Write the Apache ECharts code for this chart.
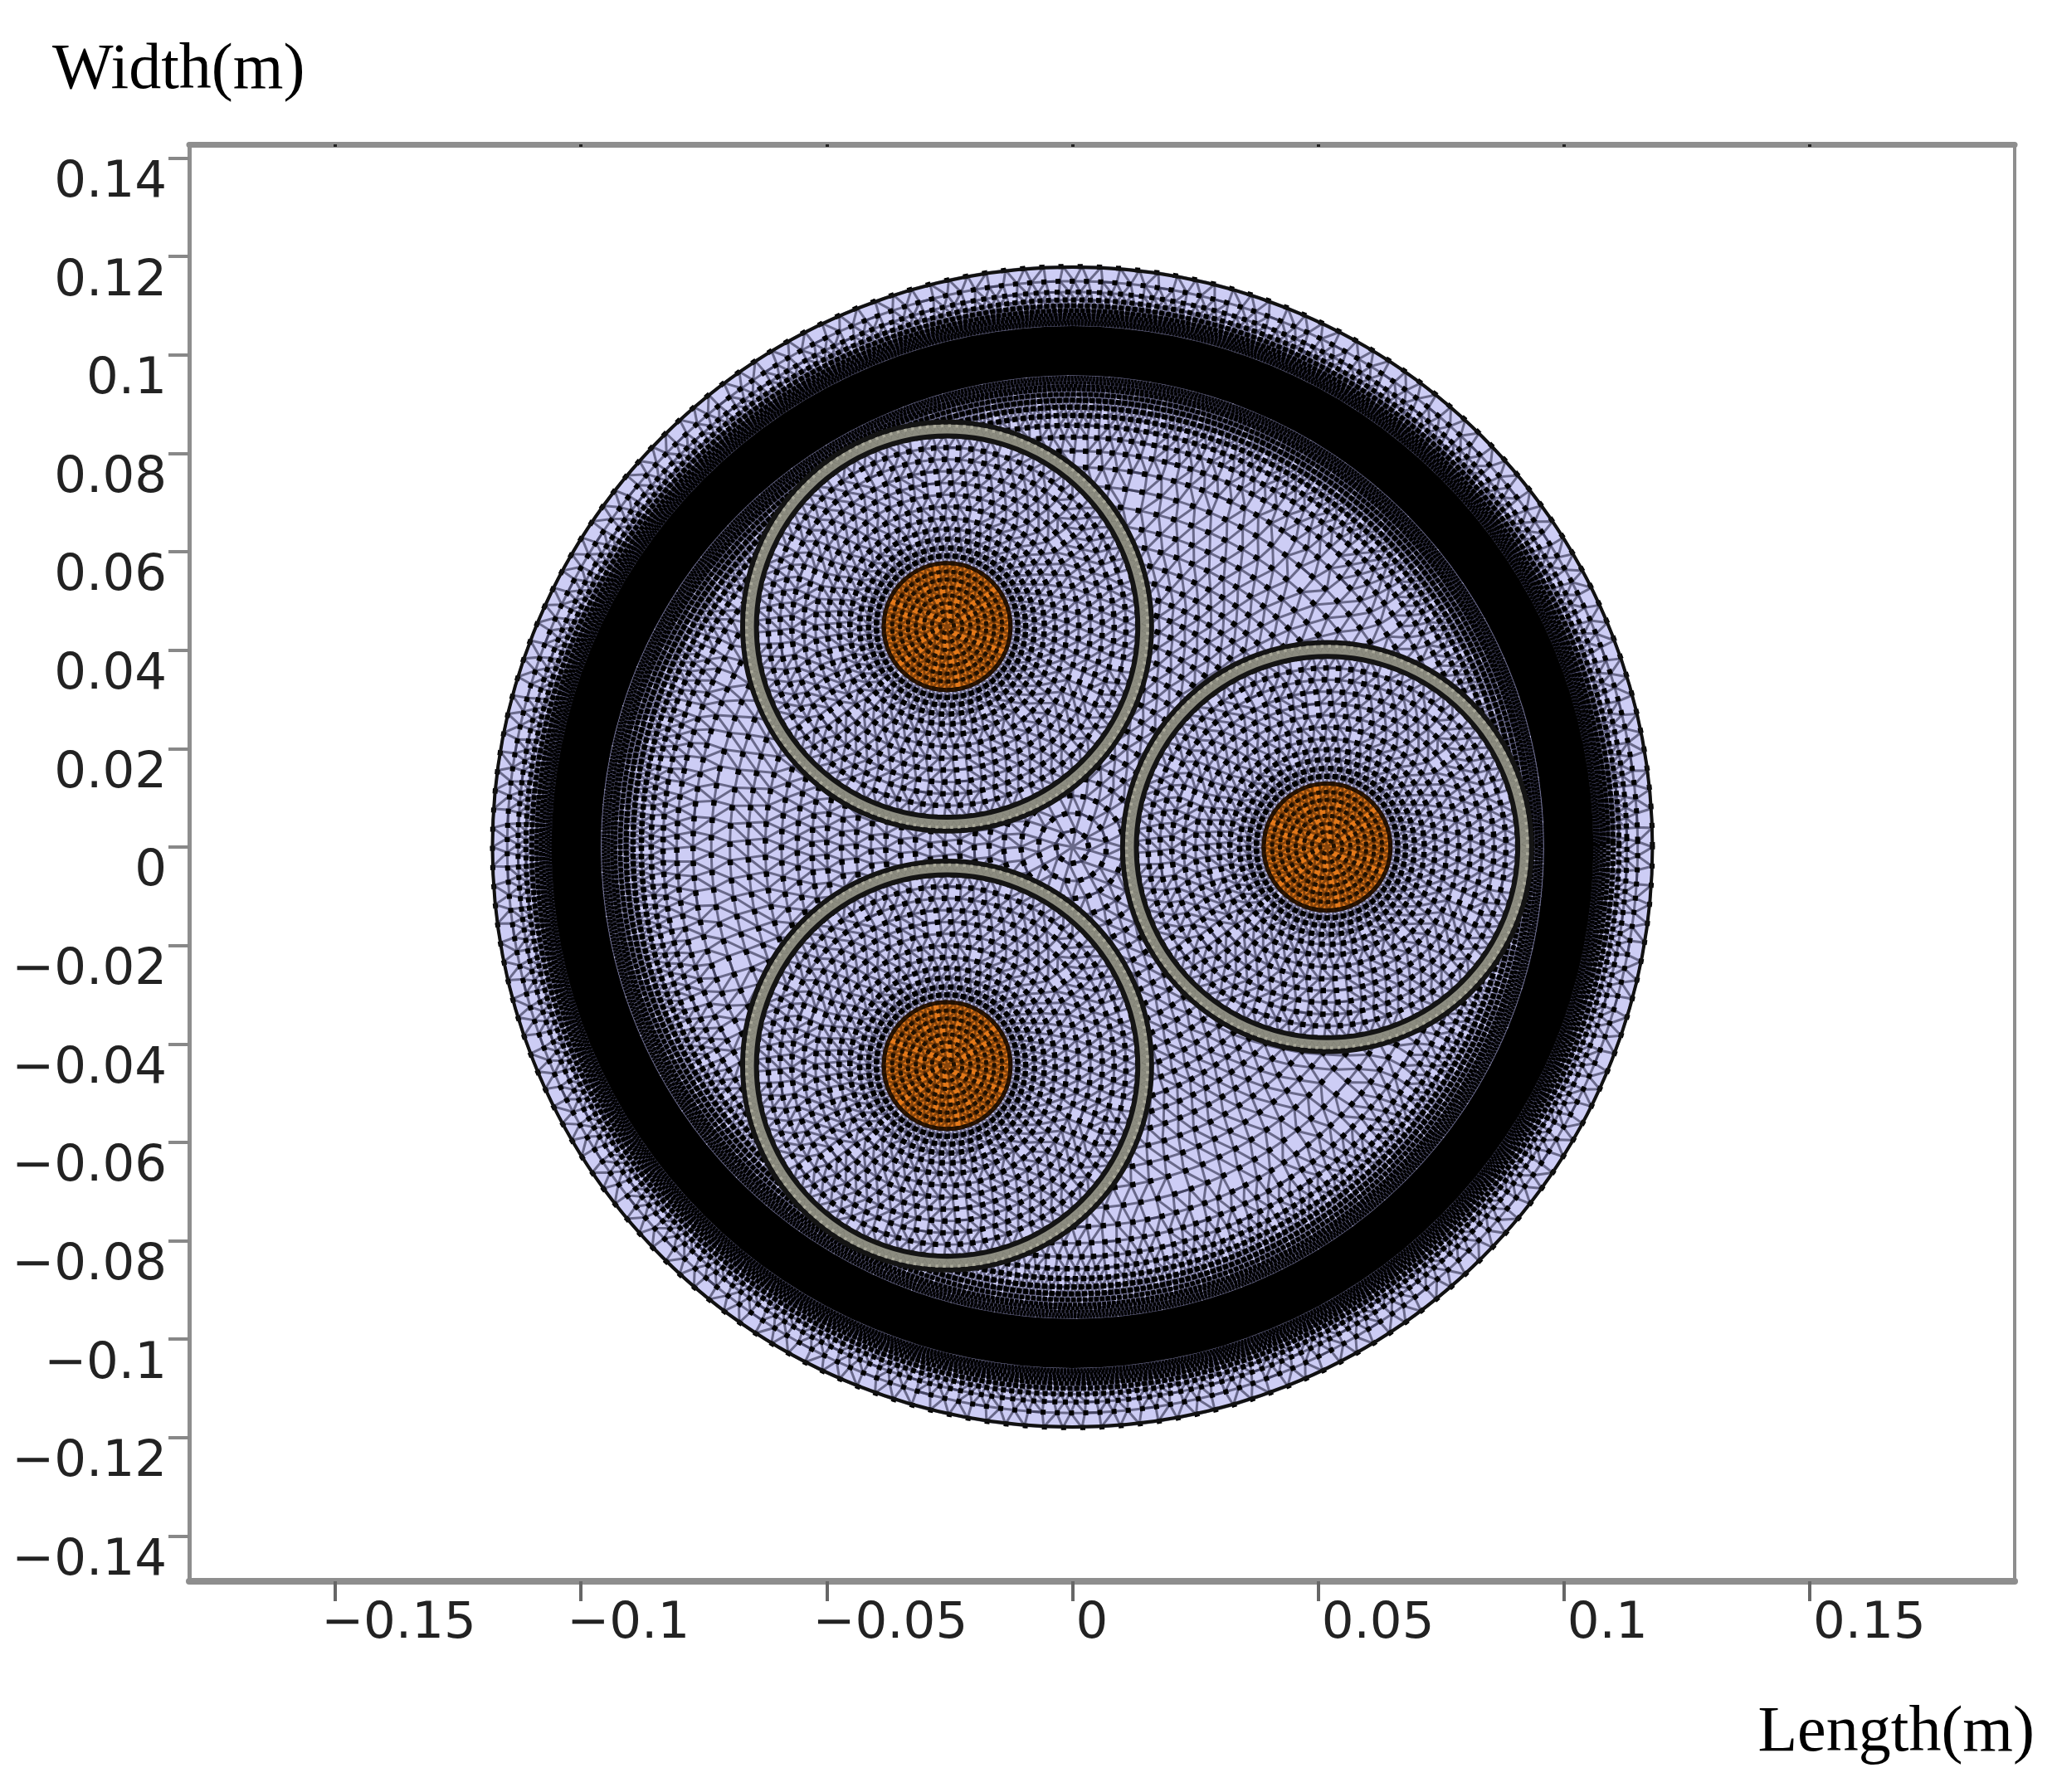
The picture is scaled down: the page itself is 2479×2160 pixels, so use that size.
<!DOCTYPE html>
<html>
<head>
<meta charset="utf-8">
<title>Cable mesh</title>
<style>
	html, body { margin: 0; background: #fff; }
	#main { width: 2479px; height: 2160px; }
</style>
</head>
<body>
<div id="main"></div>
<script src="https://cdn.jsdelivr.net/npm/echarts@6/dist/echarts.min.js"></script>
<script>
	// axis ranges and ticks
	var xRange = [-0.1797, 0.1917];
	var yRange = [-0.1492, 0.1428];
	var xTicks = [-0.15, -0.1, -0.05, 0, 0.05, 0.1, 0.15];
	var yTicks = [-0.14, -0.12, -0.1, -0.08, -0.06, -0.04, -0.02, 0, 0.02, 0.04, 0.06, 0.08, 0.1, 0.12, 0.14];

	// the three cores
	var coreX = [-0.0255, 0.0518, -0.0255];
	var coreY = [0.0448, 0, -0.0444];

	// radii of the domains
	var outerRadius = 0.118;
	var blackBand = [0.096, 0.106];
	var sheathBand = [0.0388, 0.0416];
	var conductorRadius = 0.0129;

	// mesh rows: radius of each row and estimated number of elements on it
	var shellRadii = [0.118, 0.115, 0.1128, 0.1112, 0.11, 0.109, 0.1082, 0.1076, 0.107, 0.1066, 0.1062, 0.1058];
	var shellCounts = [190, 250, 330, 410, 500, 600, 700, 800, 880, 950, 1000, 1000];
	var fillerRadii = [0.0962, 0.0955, 0.095, 0.0944, 0.0937, 0.093, 0.092, 0.0908, 0.0894, 0.0877, 0.0857, 0.0833, 0.0805, 0.0772, 0.0735, 0.0697, 0.066, 0.0625, 0.0592, 0.056, 0.053, 0.05, 0.047, 0.044, 0.041, 0.038, 0.035, 0.032, 0.029, 0.026, 0.023, 0.02, 0.017, 0.014, 0.0105, 0.007, 0.0035, 0];
	var fillerCounts = [1000, 930, 820, 730, 650, 590, 495, 428, 376, 327, 266, 222, 187, 160, 130, 118, 117, 116, 116, 116, 116, 109, 103, 96, 90, 83, 77, 70, 64, 57, 50, 44, 37, 31, 24, 16, 8, 1];
	var insulationRadii = [0.0388, 0.0364, 0.034, 0.0316, 0.0292, 0.0268, 0.0244, 0.022, 0.0198, 0.0178, 0.016, 0.0144, 0.0129];
	var insulationCounts = [103, 90, 79, 74, 68, 62, 61, 58, 57, 55, 54, 54, 53];
	var sheathRadii = [0.0408, 0.0396];
	var sheathCounts = [170, 170];
	var conductorRadii = [0.0129, 0.0112, 0.0096, 0.008, 0.0064, 0.0048, 0.0032, 0.0016, 0];
	var conductorCounts = [52, 46, 40, 32, 26, 18, 12, 6, 1];

	var lightFill = '#cdcdf5';
	var sheathFill = '#8c8c80';
	var copperFill = '#e4791a';
	var frameColor = '#8e8e8e';

	// stagger rows so the nodes do not line up radially
	function rowPhase(i) {
		return (i * 0.382) % 1;
	}

	// one item per strip between two neighbouring rows
	function buildStrips(cx, cy, radii, counts) {
		var strips = [];
		for (var i = 0; i < radii.length - 1; i++) {
			strips.push([cx, cy, radii[i], radii[i + 1], counts[i], counts[i + 1], rowPhase(i), rowPhase(i + 1)]);
		}
		return strips;
	}

	function ringPoint(api, cx, cy, r, turn) {
		var a = turn * Math.PI * 2;
		return api.coord([cx + r * Math.cos(a), cy + r * Math.sin(a)]);
	}

	function meshSeries(name, strips, z, lineColor, lineWidth, dotColor, dotSize) {
		return {
			name: name, type: 'custom', z: z, silent: true, animation: false, clip: false,
			data: strips,
			renderItem: function (params, api) {
				var cx = api.value(0), cy = api.value(1), r1 = api.value(2), r2 = api.value(3);
				var n1 = api.value(4), n2 = api.value(5);
				var shift1 = api.value(6) / n1, shift2 = api.value(7) / n2;
				var ring = [], zigzag = [], i = 0, j = 0;
				for (var k = 0; k <= n1; k++) {
					ring.push(ringPoint(api, cx, cy, r1, k / n1 + shift1));
				}
				if (r2 === 0) {
					// last strip closes on the centre: spokes
					var centre = api.coord([cx, cy]);
					ring.forEach(function (p) {
						zigzag.push(p, centre, p);
					});
				} else {
					while (i <= n1 || j <= n2) {
						if (j > n2 || (i <= n1 && i / n1 + shift1 <= j / n2 + shift2)) {
							zigzag.push(ringPoint(api, cx, cy, r1, i / n1 + shift1));
							i++;
						} else {
							zigzag.push(ringPoint(api, cx, cy, r2, j / n2 + shift2));
							j++;
						}
					}
				}
				// in the dense rows lines and nodes thin out a bit, so the band fades instead of ending hard
				var size = api.size([r1 * 2 * Math.PI / n1, 0])[0];
				var width = Math.min(lineWidth, size * 0.6);
				var dot = Math.min(dotSize, size * 0.8);
				return {
					type: 'group',
					children: [
						{ type: 'polyline', shape: { points: ring }, style: { fill: 'none', stroke: lineColor, lineWidth: width } },
						{ type: 'polyline', shape: { points: zigzag }, style: { fill: 'none', stroke: lineColor, lineWidth: width } },
						// nodes of the mesh show up as dark dots along the row
						{
							type: 'polyline', shape: { points: ring },
							style: { fill: 'none', stroke: dotColor, lineWidth: dot, lineDash: [dot, Math.max(size - dot, 0.5)] }
						}
					]
				};
			}
		};
	}

	function ringSeries(name, rings, z, fill, stroke, strokeWidth) {
		return {
			name: name, type: 'custom', z: z, silent: true, animation: false, clip: false,
			data: rings,
			renderItem: function (params, api) {
				var c = api.coord([api.value(0), api.value(1)]);
				var r0 = api.size([api.value(2), 0])[0], r = api.size([api.value(3), 0])[0];
				return {
					type: 'ring', shape: { cx: c[0], cy: c[1], r0: r0, r: r },
					style: { fill: fill, stroke: stroke, lineWidth: strokeWidth }
				};
			}
		};
	}

	var insulationStrips = [], sheathStrips = [], conductorStrips = [];
	var coreDiscs = [], sheathRings = [], conductorDiscs = [];
	for (var c = 0; c < coreX.length; c++) {
		insulationStrips = insulationStrips.concat(buildStrips(coreX[c], coreY[c], insulationRadii, insulationCounts));
		sheathStrips = sheathStrips.concat(buildStrips(coreX[c], coreY[c], sheathRadii, sheathCounts));
		conductorStrips = conductorStrips.concat(buildStrips(coreX[c], coreY[c], conductorRadii, conductorCounts));
		coreDiscs.push([coreX[c], coreY[c], 0, sheathBand[1]]);
		sheathRings.push([coreX[c], coreY[c], sheathBand[0], sheathBand[1]]);
		conductorDiscs.push([coreX[c], coreY[c], 0, conductorRadius]);
	}

	var meshLine = 'rgba(50,50,80,0.65)';

	var series = [
		ringSeries('Domain', [[0, 0, 0, outerRadius]], 2, lightFill, 'none', 0),
		meshSeries('Outer mesh', buildStrips(0, 0, shellRadii, shellCounts), 3, meshLine, 3, '#000', 6),
		meshSeries('Filler mesh', buildStrips(0, 0, fillerRadii, fillerCounts), 3, meshLine, 3, '#000', 6.5),
		ringSeries('Dense band', [[0, 0, blackBand[0], blackBand[1]]], 4, '#000', 'none', 0),
		ringSeries('Core', coreDiscs, 5, lightFill, 'none', 0),
		meshSeries('Insulation mesh', insulationStrips, 6, meshLine, 3, '#000', 6.5),
		ringSeries('Sheath', sheathRings, 7, sheathFill, '#141414', 6),
		meshSeries('Sheath mesh', sheathStrips, 8, 'rgba(60,60,50,0.12)', 1, '#aaa99a', 3.5),
		ringSeries('Conductor', conductorDiscs, 9, copperFill, '#1a0c00', 5),
		meshSeries('Conductor mesh', conductorStrips, 10, 'rgba(60,28,0,0.55)', 3, '#201000', 5),
		ringSeries('Boundary', [[0, 0, outerRadius, outerRadius]], 11, 'none', '#111', 4)
	];

	var labelFont = { fontFamily: 'DejaVu Sans', fontSize: 61, color: '#222' };
	var nameFont = { fontFamily: 'Liberation Serif', fontSize: 78, color: '#000' };

	function yTickLabel(value) {
		return String(value).replace('-', '\u2212');
	}

	// negative labels start left of their tick, positive ones just right of it
	function xTickLabel(value) {
		return value < 0 ? '{neg|' + yTickLabel(value) + '}' : '{pos|' + value + '}';
	}

	var option = {
		backgroundColor: '#fff',
		animation: false,
		grid: { left: 228, right: 51, top: 174, bottom: 254 },
		xAxis: [
			{
				type: 'value', min: xRange[0], max: xRange[1], position: 'bottom',
				name: 'Length(m)', nameLocation: 'end', nameGap: 24,
				nameTextStyle: Object.assign({ align: 'right', verticalAlign: 'top', padding: [145, 0, 0, 0] }, nameFont),
				axisLine: { onZero: false, lineStyle: { color: frameColor, width: 8 } },
				axisTick: { customValues: xTicks, length: 24, lineStyle: { color: '#666', width: 4 } },
				axisLabel: {
					customValues: xTicks, formatter: xTickLabel, align: 'left', verticalAlign: 'top',
					margin: 22, hideOverlap: false, padding: [0, 0, 0, -17],
					rich: {
						neg: { fontFamily: labelFont.fontFamily, fontSize: labelFont.fontSize, color: labelFont.color },
						pos: { fontFamily: labelFont.fontFamily, fontSize: labelFont.fontSize, color: labelFont.color, padding: [0, 0, 0, 21] }
					}
				},
				splitLine: { show: false }
			},
			{
				type: 'value', min: xRange[0], max: xRange[1], position: 'top',
				axisLine: { onZero: false, lineStyle: { color: frameColor, width: 7 } },
				axisTick: { customValues: xTicks, inside: true, length: 3, lineStyle: { color: '#222', width: 4 } },
				axisLabel: { show: false },
				splitLine: { show: false }
			}
		],
		yAxis: [
			{
				type: 'value', min: yRange[0], max: yRange[1], position: 'left',
				name: 'Width(m)', nameLocation: 'end', nameGap: 49,
				nameTextStyle: Object.assign({ align: 'left', padding: [0, 0, 0, -165] }, nameFont),
				axisLine: { onZero: false, lineStyle: { color: frameColor, width: 5 } },
				axisTick: { customValues: yTicks, length: 25, lineStyle: { color: '#888', width: 4 } },
				axisLabel: Object.assign({ customValues: yTicks, formatter: yTickLabel, verticalAlign: 'top', margin: 27, hideOverlap: false }, labelFont),
				splitLine: { show: false }
			},
			{
				type: 'value', min: yRange[0], max: yRange[1], position: 'right',
				axisLine: { onZero: false, lineStyle: { color: frameColor, width: 4 } },
				axisTick: { show: false },
				axisLabel: { show: false },
				splitLine: { show: false }
			}
		],
		series: series
	};

	var chart = echarts.init(document.getElementById('main'));
	chart.setOption(option);
</script>
</body>
</html>
